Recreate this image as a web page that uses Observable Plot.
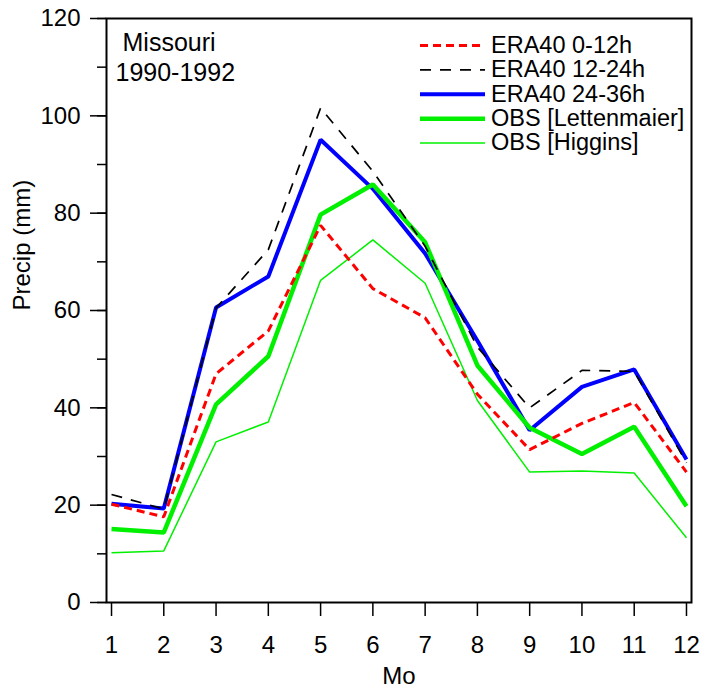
<!DOCTYPE html>
<html>
<head>
<meta charset="utf-8">
<script src="https://cdn.jsdelivr.net/npm/d3@7"></script>
<script src="https://cdn.jsdelivr.net/npm/@observablehq/plot@0.6"></script>
<style>
  html, body { margin: 0; padding: 0; background: #fff; }
  #chart { position: relative; width: 715px; height: 691px; }
  svg { font-family: "Liberation Sans", Arial, sans-serif; }
</style>
</head>
<body>
<div id="chart"></div>
<script>
const months = [1, 2, 3, 4, 5, 6, 7, 8, 9, 10, 11, 12];
const era0_12 = [20.2, 17.6, 47.0, 55.8, 77.5, 64.5, 58.5, 42.8, 31.4, 36.8, 41.1, 26.8];
const era12_24 = [22.2, 19.2, 60.5, 72.5, 101.6, 88.6, 73.2, 52.5, 40.0, 47.7, 47.5, 28.7];
const era24_36 = [20.3, 19.3, 60.6, 67.0, 95.1, 85.0, 71.7, 53.8, 35.4, 44.3, 47.9, 29.4];
const obsLettenmaier = [15.1, 14.4, 40.7, 50.6, 79.7, 85.9, 74.0, 48.7, 35.9, 30.5, 36.1, 19.8];
const obsHiggins = [10.2, 10.6, 33.0, 37.1, 66.2, 74.5, 65.6, 41.5, 26.8, 27.0, 26.6, 13.3];

const seriesNames = ["ERA40 0-12h", "ERA40 12-24h", "ERA40 24-36h", "OBS [Lettenmaier]", "OBS [Higgins]"];
const seriesValues = [era0_12, era12_24, era24_36, obsLettenmaier, obsHiggins];
const yTicksMajor = [0, 20, 40, 60, 80, 100, 120];
const yTicksMinor = [0, 10, 20, 30, 40, 50, 60, 70, 80, 90, 100, 110, 120];
const regionLabel = "Missouri";
const periodLabel = "1990-1992";
const xLabel = "Mo";
const yLabel = "Precip (mm)";

const styles = {
  "ERA40 0-12h": {stroke: "#ff0000", strokeWidth: 3, strokeDasharray: "8,5"},
  "ERA40 12-24h": {stroke: "#000000", strokeWidth: 1.7, strokeDasharray: "11,9"},
  "ERA40 24-36h": {stroke: "#0000ff", strokeWidth: 4},
  "OBS [Lettenmaier]": {stroke: "#00f000", strokeWidth: 4.5},
  "OBS [Higgins]": {stroke: "#00f000", strokeWidth: 1.5}
};

const table = [];
seriesNames.forEach((name, i) => {
  months.forEach((m, j) => table.push({series: name, month: m, value: seriesValues[i][j]}));
});

const drawOrder = ["ERA40 24-36h", "OBS [Lettenmaier]", "OBS [Higgins]", "ERA40 0-12h", "ERA40 12-24h"];
const font = "Liberation Sans, Arial, sans-serif";

const plot = Plot.plot({
  width: 715,
  height: 691,
  marginLeft: 106,
  marginRight: 24,
  marginTop: 18,
  marginBottom: 89,
  style: {fontFamily: font, fontSize: "24px", color: "#000", background: "#fff"},
  x: {domain: [0.904, 12.096]},
  y: {domain: [0, 120]},
  marks: [
    ...drawOrder.map(name => Plot.line(table.filter(d => d.series === name), {
      x: "month", y: "value", ...styles[name], strokeLinejoin: "miter", strokeLinecap: "butt"
    })),
    Plot.axisY({ticks: yTicksMinor, tickSize: 9, tickFormat: () => "", label: null, strokeWidth: 1.5}),
    Plot.axisY({ticks: yTicksMajor, tickSize: 16, tickPadding: 10, label: null, strokeWidth: 1.5, fontSize: 24}),
    Plot.axisX({ticks: months, tickSize: 14, tickPadding: 19, label: null, strokeWidth: 1.5, fontSize: 24}),
    Plot.frame({stroke: "#000", strokeWidth: 2}),
    Plot.text([regionLabel], {frameAnchor: "top-left", dx: 16, dy: 15, lineAnchor: "top", textAnchor: "start", fontSize: 25}),
    Plot.text([periodLabel], {frameAnchor: "top-left", dx: 9, dy: 45, lineAnchor: "top", textAnchor: "start", fontSize: 25}),
    Plot.text([xLabel], {frameAnchor: "bottom", dy: 81, fontSize: 24}),
    Plot.text([yLabel], {frameAnchor: "left", dx: -84, rotate: -90, fontSize: 24})
  ]
});

document.getElementById("chart").appendChild(plot);

// legend inside the frame (top-right)
const svg = d3.select(plot);
const lg = svg.append("g").attr("font-family", font).attr("font-size", 23.5).attr("text-anchor", "start");
seriesNames.forEach((name, i) => {
  const yc = 44.5 + i * 24.4;
  const s = styles[name];
  lg.append("line").attr("x1", 420).attr("x2", 485).attr("y1", yc + 1).attr("y2", yc + 1)
    .attr("stroke", s.stroke).attr("stroke-width", s.strokeWidth)
    .attr("stroke-dasharray", s.strokeDasharray || null);
  lg.append("text").attr("x", 491).attr("y", yc).attr("dy", "0.35em").attr("fill", "#000")
    .attr("text-anchor", "start").text(name);
});
</script>
</body>
</html>
